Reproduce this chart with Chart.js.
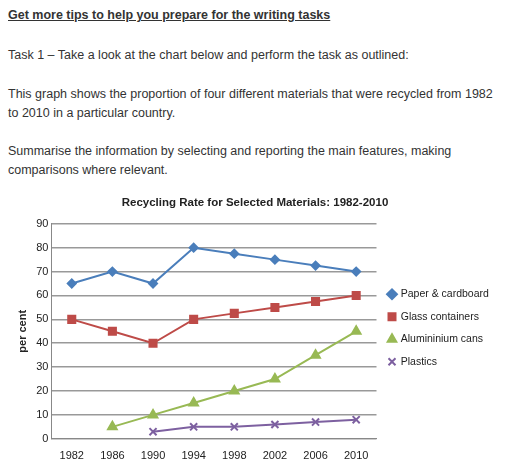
<!DOCTYPE html>
<html><head><meta charset="utf-8">
<script src="https://cdn.jsdelivr.net/npm/chart.js@4"></script>
<style>
body{margin:0;background:#fff;font-family:"Liberation Sans",Arial,sans-serif;color:#333;font-size:12.5px;}
.t{position:absolute;left:8px;width:490px;line-height:19px;}
#wrap{position:absolute;left:0;top:190px;width:512px;height:284px;}
</style></head><body>
<div class="t" style="top:6px;font-weight:bold;text-decoration:underline;">Get more tips to help you prepare for the writing tasks</div>
<div class="t" style="top:46px;">Task 1 – Take a look at the chart below and perform the task as outlined:</div>
<div class="t" style="top:85px;">This graph shows the proportion of four different materials that were recycled from 1982 to 2010 in a particular country.</div>
<div class="t" style="top:142px;">Summarise the information by selecting and reporting the main features, making comparisons where relevant.</div>
<div id="wrap"><canvas id="c"></canvas></div>
<script>
const years=["1982","1986","1990","1994","1998","2002","2006","2010"];
const paper=[65,70,65,80,77.5,75,72.5,70];
const glass=[50,45,40,50,52.5,55,57.5,60];
const alu=[null,5,10,15,20,25,35,45];
const plastics=[null,null,3,5,5,6,7,8];
const names=["Paper & cardboard","Glass containers","Alumininium cans","Plastics"];
const mk=(l,d,c,ps,r)=>({label:l,data:d,borderColor:c,backgroundColor:c,pointStyle:ps,pointRadius:r,borderWidth:2,tension:0,spanGaps:false});
new Chart(document.getElementById('c'),{type:'line',
data:{labels:years,datasets:[mk(names[0],paper,'#4a7ebb','rectRot',4),mk(names[1],glass,'#be4b48','rect',5),mk(names[2],alu,'#98b954','triangle',5),mk(names[3],plastics,'#7d60a0','crossRot',5)]},
options:{responsive:true,maintainAspectRatio:false,animation:false,
layout:{padding:{left:12,right:14,top:0,bottom:8}},
plugins:{title:{display:true,text:'Recycling Rate for Selected Materials: 1982-2010',color:'#222',font:{family:'Liberation Sans',size:11.5,weight:'bold'},padding:{top:6,bottom:14}},
legend:{position:'right',labels:{usePointStyle:true,boxWidth:7,boxHeight:7,color:'#222',font:{family:'Liberation Sans',size:10.5},padding:12}},tooltip:{enabled:false}},
scales:{x:{offset:true,grid:{display:false},border:{color:'#888'},ticks:{color:'#222',font:{family:'Liberation Sans',size:11}}},
y:{min:0,max:90,ticks:{stepSize:10,color:'#222',font:{family:'Liberation Sans',size:11}},grid:{color:'#999',lineWidth:1.5,drawTicks:false},border:{color:'#888'},title:{display:true,text:'per cent',color:'#222',font:{family:'Liberation Sans',size:11,weight:'bold'}}}}}});
</script></body></html>
